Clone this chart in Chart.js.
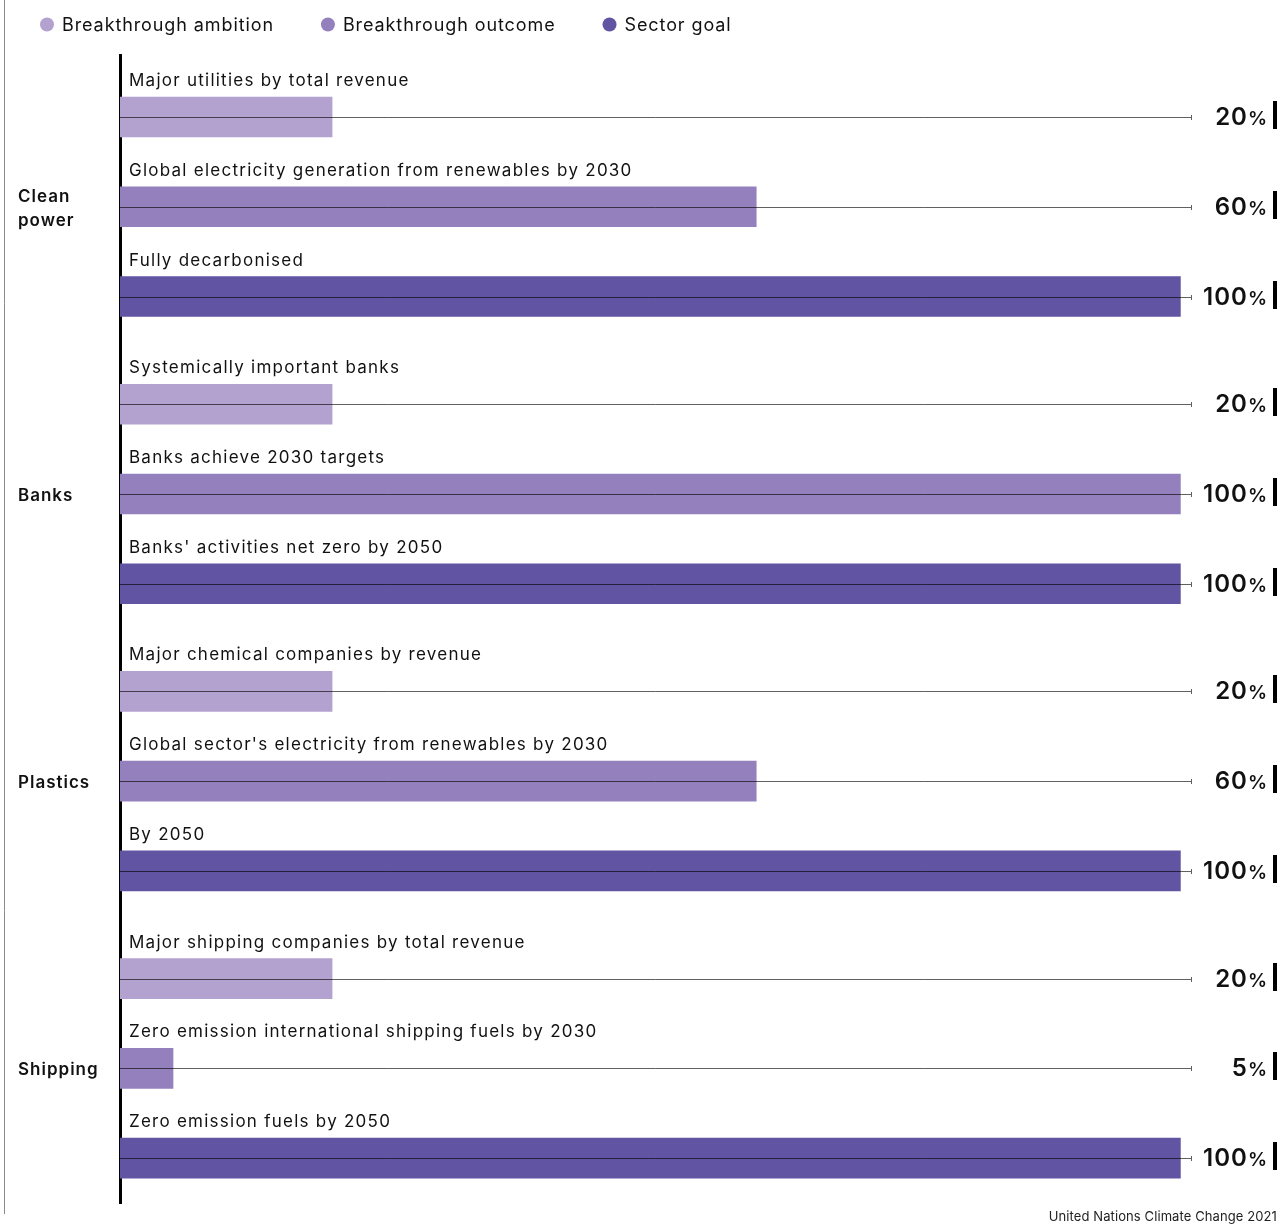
<!DOCTYPE html>
<html><head><meta charset="utf-8">
<script src="https://cdn.jsdelivr.net/npm/chart.js@4.4.1/dist/chart.umd.min.js"></script>
<style>html,body{margin:0;padding:0;background:#fff;overflow:hidden}canvas{display:block}</style>
</head><body>
<canvas id="c" width="1281" height="1227"></canvas>
<script>
// ---- data ----
const groups = ['Clean\npower', 'Banks', 'Plastics', 'Shipping'];
const seriesNames = ['Breakthrough ambition', 'Breakthrough outcome', 'Sector goal'];
const ambitionLabels = ['Major utilities by total revenue', 'Systemically important banks', 'Major chemical companies by revenue', 'Major shipping companies by total revenue'];
const outcomeLabels = ['Global electricity generation from renewables by 2030', 'Banks achieve 2030 targets', "Global sector's electricity from renewables by 2030", 'Zero emission international shipping fuels by 2030'];
const goalLabels = ['Fully decarbonised', "Banks' activities net zero by 2050", 'By 2050', 'Zero emission fuels by 2050'];
const ambitionValues = [20, 20, 20, 20];
const outcomeValues = [60, 100, 60, 5];
const goalValues = [100, 100, 100, 100];
const sourceText = 'United Nations Climate Change 2021';

// ---- styles ----
const colors = ['#B3A2D0', '#9480BD', '#6155A3'];
const FONT = 'Inter, "Noto Sans", sans-serif';
const GROUP_GAP = 0.2;
const rowPos = (g, s) => g * 3 + s + g * GROUP_GAP;

const seriesValues = [ambitionValues, outcomeValues, goalValues];
const seriesLabels = [ambitionLabels, outcomeLabels, goalLabels];

const datasets = seriesNames.map((name, s) => ({
  label: name,
  data: seriesValues[s].map((v, g) => ({ x: v, y: rowPos(g, s) })),
  rowLabels: seriesLabels[s],
  backgroundColor: colors[s],
  borderWidth: 0,
  barThickness: 40,
  grouped: false
}));

const decor = {
  id: 'decor',
  beforeDraw(chart) {
    const ctx = chart.ctx;
    ctx.save();
    ctx.fillStyle = '#fff';
    ctx.fillRect(0, 0, chart.width, chart.height);
    ctx.strokeStyle = '#8a8a8a';
    ctx.lineWidth = 1;
    ctx.beginPath();
    ctx.moveTo(4.5, 0);
    ctx.lineTo(4.5, 1214);
    ctx.stroke();
    ctx.restore();
  },
  afterDatasetsDraw(chart) {
    const ctx = chart.ctx;
    const area = chart.chartArea;
    ctx.save();
    // legend
    ctx.font = '400 18px ' + FONT;
    ctx.letterSpacing = '0.9px';
    ctx.textBaseline = 'middle';
    ctx.textAlign = 'left';
    let cx = 47;
    seriesNames.forEach((name, s) => {
      ctx.fillStyle = colors[s];
      ctx.beginPath();
      ctx.arc(cx, 24.5, 7, 0, Math.PI * 2);
      ctx.fill();
      ctx.fillStyle = '#111';
      ctx.fillText(name, cx + 15, 25.5);
      cx = cx + 15 + ctx.measureText(name).width + 54;
    });

    // rows
    chart.data.datasets.forEach((ds, s) => {
      const meta = chart.getDatasetMeta(s);
      meta.data.forEach((bar, i) => {
        const y = Math.round(bar.y);
        ctx.strokeStyle = 'rgba(0,0,0,0.62)';
        ctx.lineWidth = 1;
        ctx.beginPath();
        ctx.moveTo(area.left, y + 0.5);
        ctx.lineTo(area.right, y + 0.5);
        ctx.moveTo(area.right + 0.5, y - 2);
        ctx.lineTo(area.right + 0.5, y + 3);
        ctx.stroke();
        // row label
        ctx.fillStyle = '#111';
        ctx.font = '400 17px ' + FONT;
        ctx.letterSpacing = '1.25px';
        ctx.textAlign = 'left';
        ctx.textBaseline = 'middle';
        ctx.fillText(ds.rowLabels[i], 129, y - 36);
        // value label
        const v = ds.data[i].x;
        ctx.font = '600 19px ' + FONT;
        ctx.letterSpacing = '0px';
        ctx.textAlign = 'right';
        ctx.textBaseline = 'alphabetic';
        const pw = ctx.measureText('%').width;
        ctx.fillText('%', 1267, y + 8);
        ctx.font = '600 24px ' + FONT;
        ctx.letterSpacing = '1px';
        ctx.fillText(String(v), 1267 - pw, y + 8);
        ctx.fillStyle = '#000';
        ctx.fillRect(1273, y - 16, 4, 28);
      });
    });

    // group labels
    const ys = chart.scales.y;
    ctx.fillStyle = '#111';
    ctx.font = '600 17px ' + FONT;
    ctx.letterSpacing = '1px';
    ctx.textAlign = 'left';
    ctx.textBaseline = 'middle';
    groups.forEach((name, g) => {
      const lines = name.split('\n');
      const cy = ys.getPixelForValue(rowPos(g, 1)) + 2;
      lines.forEach((ln, k) => {
        ctx.fillText(ln, 18, cy + (k - (lines.length - 1) / 2) * 24);
      });
    });

    // source
    ctx.font = '400 13px ' + FONT;
    ctx.letterSpacing = '0.1px';
    ctx.textAlign = 'right';
    ctx.fillStyle = '#222';
    ctx.fillText(sourceText, 1277, 1217);
    ctx.restore();
  }
};

new Chart(document.getElementById('c'), {
  type: 'bar',
  data: { datasets },
  options: {
    indexAxis: 'y',
    responsive: false,
    animation: false,
    events: [],
    layout: { padding: { top: 55, right: 90, bottom: 24, left: 0 } },
    scales: {
      x: { type: 'linear', min: 0, max: 101, display: false, offset: false },
      y: {
        type: 'linear', reverse: true, min: -0.691, max: 12.1, offset: false,
        grid: { display: false, offset: false },
        ticks: { display: false },
        border: { display: true, color: '#000', width: 3 },
        afterFit(scale) { scale.width = 120; }
      }
    },
    plugins: { legend: { display: false }, tooltip: { enabled: false } }
  },
  plugins: [decor]
});
</script>
</body></html>
